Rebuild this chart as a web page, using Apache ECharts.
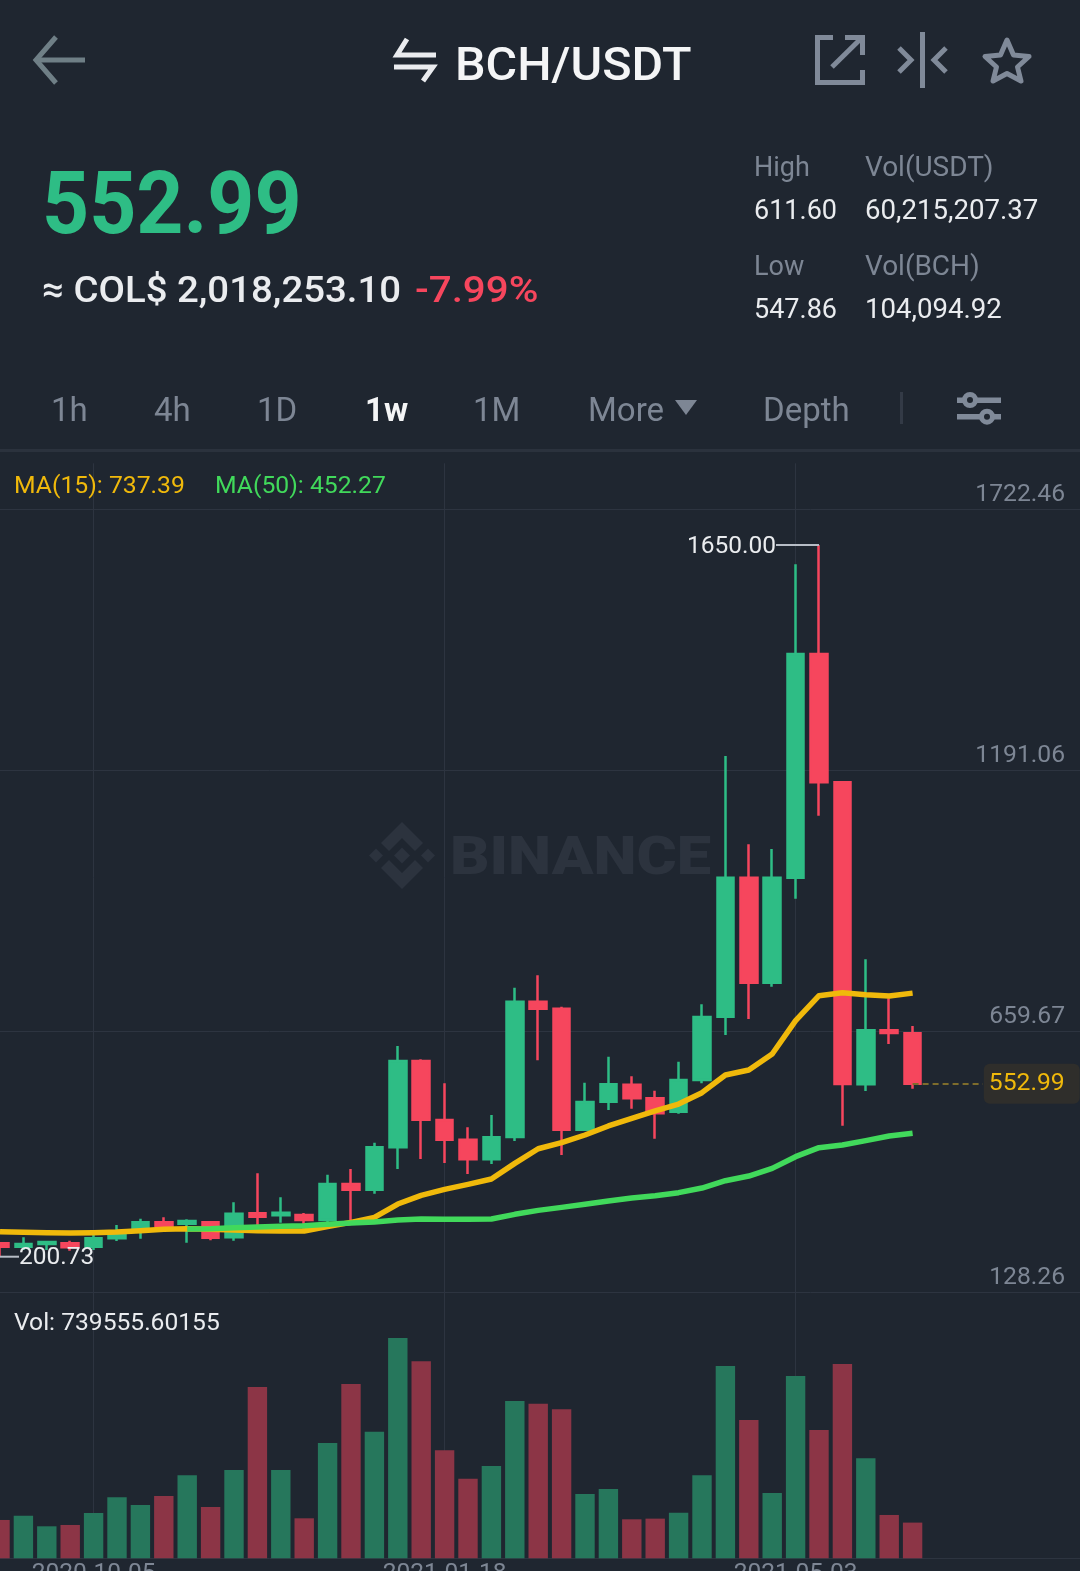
<!DOCTYPE html>
<html><head><meta charset="utf-8">
<style>html,body{margin:0;padding:0;background:#1f2630;overflow:hidden}#c{width:1080px;height:1571px}</style>
<script src="https://cdn.jsdelivr.net/npm/echarts@6/dist/echarts.min.js"></script>
</head><body><div id="c"></div>
<script>
const categories = ['2020-09-07','2020-09-14','2020-09-21','2020-09-28','2020-10-05','2020-10-12','2020-10-19','2020-10-26','2020-11-02','2020-11-09','2020-11-16','2020-11-23','2020-11-30','2020-12-07','2020-12-14','2020-12-21','2020-12-28','2021-01-04','2021-01-11','2021-01-18','2021-01-25','2021-02-01','2021-02-08','2021-02-15','2021-02-22','2021-03-01','2021-03-08','2021-03-15','2021-03-22','2021-03-29','2021-04-05','2021-04-12','2021-04-19','2021-04-26','2021-05-03','2021-05-10','2021-05-17','2021-05-24','2021-05-31','2021-06-07','2021-06-14','2021-06-21','2021-06-28','2021-07-05','2021-07-12','2021-07-19','2021-07-26'];
const opens  = [227.9,221.1,226.6,227.9,221.1,238.1,255.1,270.7,268,270.7,240.1,289,284.9,285.6,275.4,348.7,337.2,423.4,599.2,479.1,439,398.9,444.4,720,705.7,459.4,516.4,551,523.2,496,560.5,689.5,972.4,758.7,972.4,1427.9,1166.6,551.7,661.6,655.5];
const closes = [221.1,226.6,230.6,219.8,238.1,244.9,270.7,263.2,273.4,239.5,288.3,282.2,290.4,275.4,348.7,337.2,423.4,599.2,479.7,439,398.9,443.8,720,705.7,459.4,515.7,551.7,523.2,492.6,560.5,688.8,972.4,758.7,972.4,1427.9,1166.6,552.4,661.6,656.2,552.99];
const lows   = [200.73,214.4,214.4,213,214.4,232.7,237.4,255.1,229.3,234,233.4,261.9,270,255.1,270,272,329.1,379.3,399.6,391.5,369.1,389.5,436.3,600.5,407.8,456.7,499.4,502.2,441,492,553.7,652.1,684.7,750.5,929.7,1098.7,467.5,538.1,633.8,542.9];
const highs  = [228.8,240.1,232,233.4,244.9,265.3,278.2,280.9,276.8,273.4,311.4,370.5,321.6,289.7,367.8,379.3,432.9,629.7,602.6,553.7,464.1,489.2,748.5,773.6,709.8,555.1,608,568,538.8,597.8,714.6,1220.2,1040.3,1030.8,1610.4,1650,1167.9,806.2,726.8,670.5];
const volumes = [794100,883900,662900,690500,939100,1263600,1104800,1291200,1719300,1063400,1829800,3549200,1829800,828600,2389100,3611300,2623900,4564200,4080900,2237200,1650300,1912700,3259200,3203900,3086500,1332700,1436200,807900,821700,946000,1719300,3984200,2865600,1353400,3777000,2658400,4025600,2071500,897700,739555.6];
const ma15 = [251.7,250.3,249.6,249,249.6,251,253.7,256.4,257.8,256.4,255.1,253.7,253,253,261.9,270.7,280.9,308,325.7,337.9,348.1,358.9,390.8,420.5,432.9,448.5,466.9,482.5,497.4,511.6,534.7,570.7,580.9,613.4,681.3,732.2,738.3,734.3,731.5,737.39];
const ma50 = [null,null,null,null,null,null,null,null,257.1,257.8,259.8,261.2,262.5,263.9,266.6,269.3,271.4,275.4,277.5,276.8,276.8,277.5,287,295.1,301.2,307.4,314.1,320.2,325,331.1,340.6,355.5,365,380.6,404.4,422.7,428.2,437,446.5,452.27];
const yTickLabels = ['128.26','659.67','1191.06','1722.46'];
const lastPrice = 552.99;

const BG='#1f2630',GRID='#2d3440',UP='#2ebd85',DOWN='#f6465d',UPV='#26775c',DOWNV='#8c3546',GOLD='#f0b90b',LIME='#41d95b',MUTE='#7d8694',ICON='#808a99',WHITE='#eaecef';
const FF='Roboto';

function txt(s,x,y,size,fill,weight,sx,align){
  return {type:'text',x:x,y:y+0.09*size,scaleX:sx||1,silent:true,z:10,
    style:{text:s,x:0,y:0,fill:fill,fontFamily:FF,fontSize:size,fontWeight:weight||400,textAlign:align||'left',textVerticalAlign:'middle'}};
}
function pl(points,color,w){
  return {type:'polyline',silent:true,z:10,shape:{points:points},style:{fill:null,stroke:color,lineWidth:w,lineCap:'butt',lineJoin:'miter'}};
}
function pg(points,color,z){
  return {type:'polygon',silent:true,z:z==null?10:z,shape:{points:points},style:{fill:color}};
}
const WM='#2c333e';

const graphics=[
  // top bar
  pl([[56,37],[36,60],[56,83]],'#6f7f86',5), pl([[36,60],[85,60]],'#6f7f86',5),
  pl([[407,39],[397,55],[436,55]],WHITE,5), pl([[394,67],[433,67],[423,81]],WHITE,5),
  txt('BCH/USDT',455,64,46,'#f4f5f6',500,1.053),
  pl([[833,37.5],[817.5,37.5],[817.5,82.5],[862.5,82.5],[862.5,70]],ICON,5),
  pl([[832,67],[861,38.5]],ICON,5), pl([[845,37.5],[862.5,37.5],[862.5,55]],ICON,5),
  pl([[922.5,32],[922.5,88]],ICON,5), pl([[899,48],[911,60],[899,72]],ICON,5), pl([[946,48],[934,60],[946,72]],ICON,5),
  {type:'polygon',silent:true,z:10,shape:{points:[[1007,40],[1013.5,55],[1029,56.5],[1017.5,67],[1021,81],[1007,73.5],[993,81],[996.5,67],[985,56.5],[1000.5,55]]},style:{fill:null,stroke:ICON,lineWidth:5,lineJoin:'round'}},
  // price block
  txt('552.99',42,203,87,UP,700,.945),
  txt('≈ COL$ 2,018,253.10',42,289,37,WHITE,500,1.037),
  txt('-7.99%',415,289,37,DOWN,500,1.09),
  txt('High',754,167,27,MUTE,400,1),
  txt('Vol(USDT)',865,167,27,MUTE,400,1.035),
  txt('611.60',754,210,27,WHITE,400,1.0),
  txt('60,215,207.37',865,210,27,WHITE,400,1.022),
  txt('Low',754,266,27,MUTE,400,1),
  txt('Vol(BCH)',865,266,27,MUTE,400,1.035),
  txt('547.86',754,309,27,WHITE,400,1.0),
  txt('104,094.92',865,309,27,WHITE,400,1.022),
  // interval tabs
  txt('1h',51,410,33,MUTE),
  txt('4h',154,410,33,MUTE),
  txt('1D',257,410,33,MUTE),
  txt('1w',365,410,33,'#f4f5f6',700),
  txt('1M',473,410,33,MUTE),
  txt('More',588,410,33,MUTE),
  pg([[675,400],[697,400],[686,415]],MUTE),
  txt('Depth',763,410,33,MUTE),
  {type:'rect',silent:true,z:10,shape:{x:900,y:392,width:3,height:32},style:{fill:'#333a46'}},
  {type:'rect',silent:true,z:10,shape:{x:957,y:397.5,width:44,height:5.5},style:{fill:ICON}},
  {type:'rect',silent:true,z:10,shape:{x:957,y:414,width:44,height:5.5},style:{fill:ICON}},
  {type:'circle',silent:true,z:11,shape:{cx:970,cy:400,r:5.5},style:{fill:BG,stroke:ICON,lineWidth:5}},
  {type:'circle',silent:true,z:11,shape:{cx:987,cy:416.7,r:5.5},style:{fill:BG,stroke:ICON,lineWidth:5}},
  {type:'rect',silent:true,z:1,shape:{x:0,y:449,width:1080,height:3},style:{fill:'#2b323d'}},
  // indicators
  txt('MA(15): 737.39',14,485,24,GOLD,400,1.03),
  txt('MA(50): 452.27',215,485,24,LIME,400,1.03),
  txt('Vol: 739555.60155',14,1322,24,WHITE,400,1.025),
  // watermark
  pg([[402,822],[423,843],[415,851],[402,838],[389,851],[381,843]],WM,0),
  pg([[402,889],[423,868],[415,860],[402,873],[389,860],[381,868]],WM,0),
  pg([[402,847.5],[410,855.5],[402,863.5],[394,855.5]],WM,0),
  pg([[376,848.5],[383,855.5],[376,862.5],[369,855.5]],WM,0),
  pg([[428,848.5],[435,855.5],[428,862.5],[421,855.5]],WM,0),
  {type:'text',x:450,y:860,scaleX:1.135,silent:true,z:0,style:{text:'BINANCE',x:0,y:0,fill:WM,fontFamily:FF,fontSize:54,fontWeight:900,textAlign:'left',textVerticalAlign:'middle'}}
];

const GRID_L=-11.7, GRID_W=1099.8;
const isTick=(i)=>i%15===4;
const chart=echarts.init(document.getElementById('c'),null,{renderer:'canvas'});
const candleData=opens.map((o,i)=>[o,closes[i],lows[i],highs[i]]);
chart.setOption({
  animation:false,
  backgroundColor:BG,
  graphic:{elements:graphics},
  grid:[
    {left:GRID_L,width:GRID_W,top:463.3,height:829,outerBoundsMode:'none',containLabel:false},
    {left:GRID_L,width:GRID_W,top:1292.3,height:266,outerBoundsMode:'none',containLabel:false}
  ],
  xAxis:[
    {type:'category',gridIndex:0,data:categories,boundaryGap:true,
      axisLine:{show:false},axisTick:{show:false,alignWithLabel:true},axisLabel:{show:false},
      splitLine:{show:true,alignWithLabel:true,interval:(i)=>isTick(i),lineStyle:{color:GRID,width:1}}},
    {type:'category',gridIndex:1,data:categories,boundaryGap:true,
      axisLine:{show:true,lineStyle:{color:GRID,width:1}},axisTick:{show:false,alignWithLabel:true},
      axisLabel:{show:true,interval:(i)=>isTick(i),color:MUTE,fontFamily:FF,fontSize:24.5,margin:3,hideOverlap:false},
      splitLine:{show:true,alignWithLabel:true,interval:(i)=>isTick(i),lineStyle:{color:GRID,width:1}}}
  ],
  yAxis:[
    {type:'value',gridIndex:0,position:'right',scale:false,min:128.26,max:1816.1,interval:531.4,
      axisLine:{show:false},axisTick:{show:false},
      splitLine:{show:true,showMaxLine:false,lineStyle:{color:GRID,width:1}},
      axisLabel:{inside:true,margin:23,align:'right',verticalAlign:'bottom',lineHeight:28,color:MUTE,fontFamily:FF,fontSize:24.7,showMaxLabel:false,
        formatter:(v,i)=>yTickLabels[i]||''}},
    {type:'value',gridIndex:1,min:0,max:5510000,axisLine:{show:false},axisTick:{show:false},splitLine:{show:false},axisLabel:{show:false}}
  ],
  series:[
    {name:'Last',type:'line',xAxisIndex:0,yAxisIndex:0,z:1,data:[],symbol:'none',silent:true,
      markLine:{silent:true,symbol:'none',animation:false,
        lineStyle:{color:'#7d6c2c',type:[6,4],width:2},
        label:{show:true,position:'end',distance:1,formatter:String(lastPrice),color:GOLD,fontFamily:FF,fontSize:24.7,
          backgroundColor:'#2f2e2b',borderRadius:6,padding:[15,15,0,5]},
        data:[[{coord:[categories[39],lastPrice]},{coord:[categories[42],lastPrice]}]]}},
    {name:'BCH/USDT',type:'candlestick',xAxisIndex:0,yAxisIndex:0,z:2,data:candleData,barWidth:17,silent:true,
      itemStyle:{color:UP,color0:DOWN,borderColor:UP,borderColor0:DOWN,borderWidth:2.5},
      markPoint:{silent:true,animation:false,symbol:'circle',symbolSize:0,
        data:[
          {coord:[categories[35],1650],label:{show:true,position:'left',distance:0,formatter:'{t|1650.00}{l|}',color:WHITE,fontFamily:FF,fontSize:24.5,rich:{t:{padding:[4,0,0,0],color:WHITE,fontFamily:FF,fontSize:24.5},l:{width:43,height:2,backgroundColor:'#b7bdc6'}}}},
          {coord:[categories[0],200.73],label:{show:true,position:'right',distance:0,formatter:'{l|}{t|200.73}',color:WHITE,fontFamily:FF,fontSize:24.5,rich:{t:{padding:[2,0,0,0],color:WHITE,fontFamily:FF,fontSize:24.5},l:{width:19,height:2,backgroundColor:'#b7bdc6'}}}}
        ]}},
    {name:'MA(15)',type:'line',xAxisIndex:0,yAxisIndex:0,z:3,data:ma15,symbol:'none',smooth:false,silent:true,lineStyle:{color:GOLD,width:5.5,join:'round'}},
    {name:'MA(50)',type:'line',xAxisIndex:0,yAxisIndex:0,z:4,data:ma50,symbol:'none',smooth:false,silent:true,connectNulls:false,lineStyle:{color:LIME,width:5.5,join:'round'}},
    {name:'Vol',type:'bar',xAxisIndex:1,yAxisIndex:1,data:volumes,barWidth:19.4,silent:true,
      itemStyle:{color:(p)=>closes[p.dataIndex]>=opens[p.dataIndex]?UPV:DOWNV}}
  ]
});
</script></body></html>
